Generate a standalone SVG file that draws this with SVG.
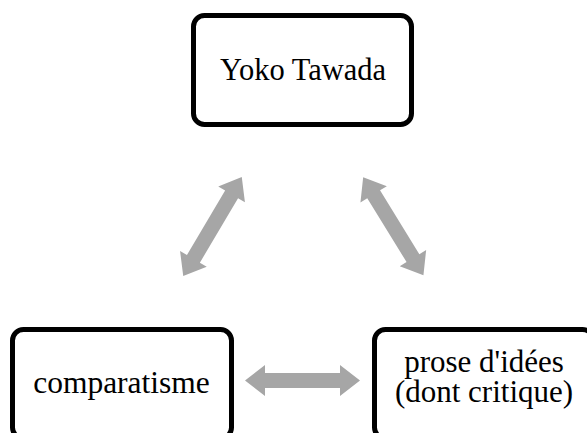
<svg xmlns="http://www.w3.org/2000/svg" width="587" height="433" viewBox="0 0 587 433">
<style>
.box{fill:#fff;stroke:#000;stroke-width:5}
.lbl{font-family:"Liberation Serif","Times New Roman",serif;font-size:31.5px;fill:#000;text-anchor:middle}
.arr{fill:#a6a6a6}
</style>
<defs>
<path id="dbl" d="M-57.5,0 L-37.5,-15.5 L-37.5,-7.5 L37.5,-7.5 L37.5,-15.5 L57.5,0 L37.5,15.5 L37.5,7.5 L-37.5,7.5 L-37.5,15.5 Z"/>
</defs>
<rect width="587" height="433" fill="#fff"/>
<g id="connectors">
<use href="#dbl" class="arr" transform="translate(212.5,226.6) rotate(120.6)"/>
<use href="#dbl" class="arr" transform="translate(393.3,226.2) rotate(58.4)"/>
<use href="#dbl" class="arr" transform="translate(302.5,380.5)"/>
</g>
<g id="yoko">
<rect class="box" x="193.5" y="15.5" width="218" height="109" rx="11"/>
<text class="lbl" x="303" y="80" style="font-size:30.5px">Yoko Tawada</text>
</g>
<g id="comparatisme">
<rect class="box" x="12.5" y="329.5" width="219" height="109" rx="11"/>
<text class="lbl" x="121.5" y="393">comparatisme</text>
</g>
<g id="prose">
<rect class="box" x="374.5" y="329.5" width="219" height="109" rx="11"/>
<text class="lbl" x="484" y="371.5" style="font-size:31px">prose d'idées</text>
<text class="lbl" x="484" y="402" style="font-size:31px">(dont critique)</text>
</g>
</svg>
